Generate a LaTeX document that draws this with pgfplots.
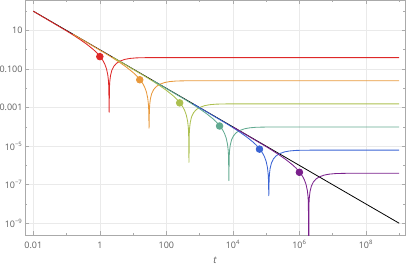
\documentclass[border=0pt]{standalone}
\usepackage{fontspec}
\setmainfont{Open Sans}
\usepackage{pgfplots}
\pgfplotsset{compat=1.18}
\definecolor{cRed}{RGB}{222,40,40}
\definecolor{cOrange}{RGB}{232,153,60}
\definecolor{cYG}{RGB}{172,192,80}
\definecolor{cTeal}{RGB}{98,170,145}
\definecolor{cBlue}{RGB}{58,100,212}
\definecolor{cPurple}{RGB}{122,32,140}
\definecolor{frameC}{RGB}{170,170,170}
\definecolor{gridC}{RGB}{234,234,234}
\definecolor{labelC}{RGB}{95,95,95}
\begin{document}
\begin{tikzpicture}
\begin{loglogaxis}[
  scale only axis, width=380.5bp, height=235bp,
  xmin=5.623e-3, xmax=1.549e9, ymin=2.455e-10, ymax=380.2,
  xtick={1e-2,1,1e2,1e4,1e6,1e8},
  xticklabels={0.01,1,100,10\textsuperscript{4},10\textsuperscript{6},10\textsuperscript{8}},
  minor xtick={1e-1,1e1,1e3,1e5,1e7,1e9},
  ytick={1e-9,1e-7,1e-5,1e-3,1e-1,1e1},
  yticklabels={10\textsuperscript{−9},10\textsuperscript{−7},10\textsuperscript{−5},0.001,0.100,10},
  minor ytick={1e-10,1e-8,1e-6,1e-4,1e-2,1,1e2},
  xmajorgrids, ymajorgrids,
  major grid style={draw=gridC, line width=0.5pt},
  axis line style={draw=frameC, line width=0.6pt},
  tick style={draw=frameC, line width=0.5pt},
  major tick length=4bp, minor tick length=2.5bp,
  tick label style={font=\fontsize{9}{11}\selectfont, text=labelC},
  xticklabel style={anchor=base, yshift=-13.3bp},
  yticklabel style={inner xsep=1.8bp, xshift=-0.6bp},
  xlabel={\textit{t}},
  xlabel style={at={(axis description cs:0.5,0)}, anchor=base, yshift=-28.3bp, font=\fontsize{9.8}{11}\selectfont, text=labelC},
  every axis plot/.append style={line width=0.85pt, line join=round},
]
\addplot[black, line width=0.8pt] coordinates {(0.01,100)(1e9,1e-9)};
\addplot[cRed] coordinates {(0.01,99.45)(0.1,9.455)(0.1585,5.765)(0.2512,3.438)(0.3981,1.971)(0.631,1.046)(0.7943,0.7222)(1,0.4656)(1.2589,0.2627)(1.4125,0.1779)(1.5849,0.1028)(1.7378,0.0488)(1.8197,0.02375)(1.8621,0.01164)(1.905,5.75e-4)(1.9498,0.01162)(1.9953,0.02286)(2.0893,0.04448)(2.2909,0.08465)(2.6303,0.1378)(3.1623,0.1969)(3.9811,0.255)(5.6234,0.316)(7.9433,0.3535)(12.589,0.3789)(25.119,0.3892)(100,0.39)(1e9,0.39)};
\addplot[cOrange] coordinates {(0.15849,6.2749)(1.5849,0.59657)(2.512,0.36375)(3.981,0.21692)(6.31,0.12436)(10,0.065998)(12.589,0.045568)(15.849,0.029377)(19.953,0.016575)(22.387,0.011225)(25.119,0.0064863)(27.542,0.0030791)(28.84,0.0014985)(29.512,7.3444e-4)(30.19,8.52e-5)(30.903,7.3318e-4)(31.623,0.0014424)(33.113,0.0028065)(36.308,0.0053411)(41.687,0.0086946)(50.119,0.012424)(63.096,0.016089)(89.125,0.019938)(125.89,0.022304)(199.53,0.023907)(398.11,0.024557)(1584.9,0.024607)(1e9,0.024607)};
\addplot[cYG] coordinates {(2.5119,0.39592)(25.119,0.037641)(39.811,0.022951)(63.096,0.013687)(100,0.0078467)(158.49,0.0041642)(199.53,0.0028752)(251.19,0.0018536)(316.23,0.0010458)(354.81,7.0824e-4)(398.11,4.0926e-4)(436.52,1.9428e-4)(457.09,9.4551e-5)(467.74,4.634e-5)(478.6,1.445e-6)(489.78,4.626e-5)(501.19,9.1008e-5)(524.81,1.7708e-4)(575.44,3.37e-4)(660.69,5.486e-4)(794.33,7.8388e-4)(1000,0.0010152)(1412.5,0.001258)(1995.3,0.0014073)(3162.3,0.0015084)(6309.6,0.0015494)(25119,0.0015526)(1e9,0.0015526)};
\addplot[cTeal] coordinates {(39.811,0.024981)(398.11,0.002375)(630.96,0.0014481)(1000,8.6359e-4)(1584.9,4.951e-4)(2511.9,2.6274e-4)(3162.3,1.8141e-4)(3981.1,1.1695e-4)(5011.9,6.5988e-5)(5623.4,4.4687e-5)(6309.6,2.5822e-5)(6918.3,1.2258e-5)(7244.4,5.9658e-6)(7413.1,2.9239e-6)(7585.8,1.623e-7)(7762.5,2.9188e-6)(7943.3,5.7422e-6)(8317.6,1.1173e-5)(9120.1,2.1263e-5)(10471,3.4614e-5)(12589,4.9459e-5)(15849,6.4053e-5)(22387,7.9376e-5)(31623,8.8796e-5)(50119,9.5176e-5)(1e5,9.7763e-5)(3.9811e5,9.7964e-5)(1e9,9.7964e-5)};
\addplot[cBlue] coordinates {(630.96,1.5762e-3)(6309.6,1.4985e-4)(10000,9.137e-5)(15849,5.4489e-5)(25119,3.1238e-5)(39811,1.6578e-5)(50119,1.1446e-5)(63096,7.3793e-6)(79433,4.1635e-6)(89125,2.8195e-6)(1e5,1.6293e-6)(1.0965e5,7.7343e-7)(1.1482e5,3.7641e-7)(1.1749e5,1.8448e-7)(1.2023e5,2.694e-8)(1.2303e5,1.8417e-7)(1.2589e5,3.6231e-7)(1.3183e5,7.0496e-7)(1.4454e5,1.3416e-6)(1.6596e5,2.184e-6)(1.9953e5,3.1207e-6)(2.5119e5,4.0415e-6)(3.5481e5,5.0083e-6)(5.0119e5,5.6026e-6)(7.9433e5,6.0052e-6)(1.5849e6,6.1684e-6)(6.3096e6,6.1811e-6)(1e9,6.1811e-6)};
\addplot[cPurple] coordinates {(1e4,9.945e-5)(1e5,9.455e-6)(1.585e5,5.765e-6)(2.512e5,3.438e-6)(3.981e5,1.971e-6)(6.31e5,1.046e-6)(7.943e5,7.222e-7)(1e6,4.656e-7)(1.2589e6,2.627e-7)(1.4125e6,1.779e-7)(1.5849e6,1.028e-7)(1.7378e6,4.88e-8)(1.8197e6,2.375e-8)(1.8621e6,1.164e-8)(1.905e6,1e-11)(1.9498e6,1.162e-8)(1.9953e6,2.286e-8)(2.0893e6,4.448e-8)(2.2909e6,8.465e-8)(2.6303e6,1.378e-7)(3.1623e6,1.969e-7)(3.9811e6,2.55e-7)(5.6234e6,3.16e-7)(7.9433e6,3.535e-7)(1.2589e7,3.789e-7)(2.5119e7,3.892e-7)(1e8,3.9e-7)(1e9,3.9e-7)};
\addplot[only marks, mark=*, mark size=3.3bp, cRed] coordinates {(1,0.44)};
\addplot[only marks, mark=*, mark size=3.3bp, cOrange] coordinates {(15.849,0.027762)};
\addplot[only marks, mark=*, mark size=3.3bp, cYG] coordinates {(251.19,0.0017517)};
\addplot[only marks, mark=*, mark size=3.3bp, cTeal] coordinates {(3981.1,1.1052e-4)};
\addplot[only marks, mark=*, mark size=3.3bp, cBlue] coordinates {(63096,6.9736e-6)};
\addplot[only marks, mark=*, mark size=3.3bp, cPurple] coordinates {(1e6,4.4e-7)};
\coordinate (sw) at (rel axis cs:0,0);
\coordinate (ne) at (rel axis cs:1,1);
\end{loglogaxis}
\pgfresetboundingbox
\path[use as bounding box] ([xshift=-25bp,yshift=-30bp]sw) rectangle ([xshift=1.5bp]ne);
\end{tikzpicture}
\end{document}
